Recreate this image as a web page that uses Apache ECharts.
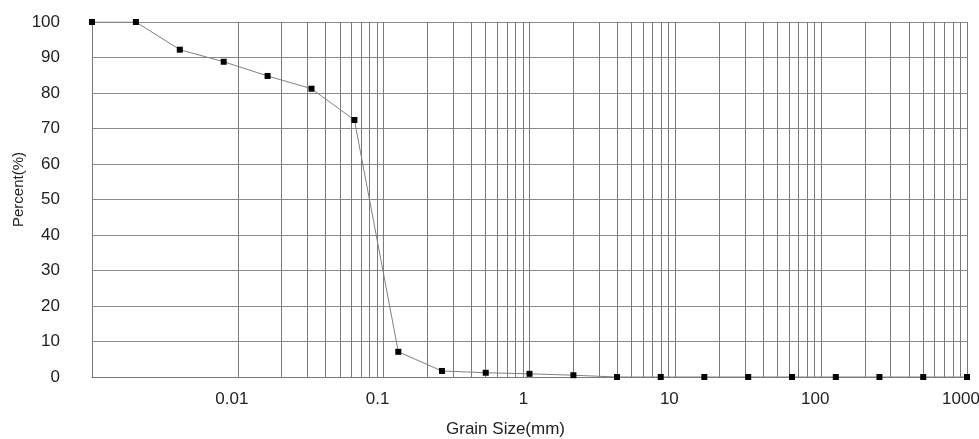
<!DOCTYPE html>
<html>
<head>
<meta charset="utf-8">
<script src="https://cdn.jsdelivr.net/npm/echarts@6/dist/echarts.min.js"></script>
<style>
  html, body { margin: 0; padding: 0; background: #fff; }
  #chart { width: 979px; height: 439px; }
</style>
</head>
<body>
<div id="chart"></div>
<script>
// grain size distribution (sieve + hydrometer)
const grainSize = [0.001, 0.002, 0.004, 0.008, 0.016, 0.032, 0.063, 0.126, 0.251, 0.501,
  1.0, 2.0, 3.98, 7.94, 15.8, 31.6, 63.1, 126, 251, 501, 1000]
const percentFiner = [100, 100, 92.2, 88.8, 84.8, 81.2, 72.4, 7.1, 1.7, 1.2,
  0.9, 0.5, 0, 0, 0, 0, 0, 0, 0, 0, 0]

// log paper grid: decades and the 2..9 lines inside each one
const decades = [0.001, 0.01, 0.1, 1, 10, 100, 1000]
const minorSteps = [2, 3, 4, 5, 6, 7, 8, 9]

const gridColor = '#7a7a7a'
const textColor = '#222'
const fontFamily = 'Liberation Sans, Arial, sans-serif'

// vertical lines of the log paper, placed through the x scale
const vLines = []
decades.forEach((d, i) => {
  vLines.push({ xAxis: d })
  if (i < decades.length - 1) {
    minorSteps.forEach(k => vLines.push({ xAxis: +(d * k).toPrecision(3) }))
  }
})

const myChart = echarts.init(document.getElementById('chart'), null, { renderer: 'canvas' })

myChart.setOption({
  animation: false,
  backgroundColor: '#fff',
  grid: { left: 92, right: 12, top: 22, bottom: 62, outerBoundsMode: 'none' },
  xAxis: {
    type: 'log',
    logBase: 10,
    min: 0.001,
    max: 1000,
    splitNumber: 6,
    name: 'Grain Size(mm)',
    nameLocation: 'middle',
    nameGap: 44,
    nameTextStyle: { color: textColor, fontSize: 17, fontFamily, padding: [0, 48, 0, 0] },
    axisLine: { show: true, lineStyle: { color: gridColor, width: 1 } },
    axisTick: { show: false },
    splitLine: { show: false },
    axisLabel: {
      showMinLabel: false,
      color: textColor,
      fontSize: 17,
      fontFamily,
      margin: 14,
      padding: [0, 12, 0, 0],
      formatter: v => String(+v.toPrecision(3))
    }
  },
  yAxis: {
    type: 'value',
    min: 0,
    max: 100,
    interval: 10,
    name: 'Percent(%)',
    nameLocation: 'middle',
    nameGap: 66,
    nameMoveOverlap: false,
    nameTextStyle: { color: textColor, fontSize: 15, fontFamily, padding: [0, 0, 0, 20] },
    axisLine: { show: true, lineStyle: { color: gridColor, width: 1 } },
    axisTick: { show: false },
    splitLine: { show: true, lineStyle: { color: '#8a8a8a', width: 1 } },
    axisLabel: { color: textColor, fontSize: 17, fontFamily, margin: 32 }
  },
  series: [
    {
      type: 'line',
      data: grainSize.map((g, i) => [g, percentFiner[i]]),
      symbol: 'rect',
      symbolSize: 6,
      lineStyle: { color: '#808080', width: 1 },
      itemStyle: { color: '#000' },
      z: 5,
      markLine: {
        silent: true,
        symbol: 'none',
        label: { show: false },
        lineStyle: { color: gridColor, width: 1, type: 'solid' },
        data: vLines,
        z: 1
      }
    }
  ]
})
</script>
</body>
</html>
